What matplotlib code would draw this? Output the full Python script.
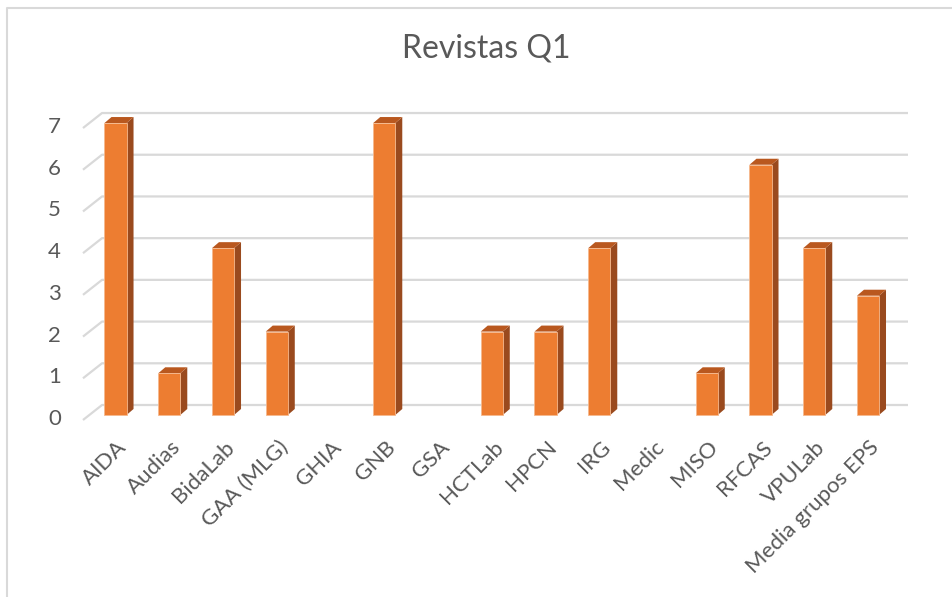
import matplotlib
matplotlib.use('Agg')
import matplotlib.pyplot as plt
from matplotlib.patches import Polygon
from matplotlib.lines import Line2D

groups = ['AIDA', 'Audias', 'BidaLab', 'GAA (MLG)', 'GHIA', 'GNB', 'GSA',
          'HCTLab', 'HPCN', 'IRG', 'Medic', 'MISO', 'RFCAS', 'VPULab',
          'Media grupos EPS']
q1 = [7, 1, 4, 2, 0, 7, 0, 2, 2, 4, 0, 1, 6, 4, 2.86]
yticks = [0, 1, 2, 3, 4, 5, 6, 7]

W, H = 953, 597
TXT = '#595959'
GRID = '#d9d9d9'
FRONT, SIDE, TOP = '#ED7D31', '#9A4A1E', '#B9581F'
plt.rcParams['font.family'] = ['Lato', 'DejaVu Sans']

fig = plt.figure(figsize=(W / 100, H / 100), dpi=100)
fig.patch.set_facecolor('white')

# axes box in pixels (front face of the bars)
XMIN, XMAX = -0.75, 14.75
YMIN, YMAX = -0.5, 7.5
left_px, right_px = 75.2, 908.3
zero_px, unit_px = 415.0, 41.71
top_px = zero_px - YMAX * unit_px
bot_px = zero_px - YMIN * unit_px
ax = fig.add_axes([left_px / W, 1 - bot_px / H, (right_px - left_px) / W, (bot_px - top_px) / H])
ax.set_xlim(XMIN, XMAX)
ax.set_ylim(YMIN, YMAX)
ax.axis('off')

kx = (XMAX - XMIN) / (right_px - left_px)   # data units per pixel
ky = (YMAX - YMIN) / (bot_px - top_px)

# back wall gridlines + floor diagonals
fx, bx = -0.605, -0.251
for v in yticks:
    ax.plot([fx, bx, XMAX], [v - 5 * ky, v + 10 * ky, v + 10 * ky],
            color=GRID, lw=1.6, zorder=1, solid_capstyle='butt')
    ax.text(fx - 22 * kx, v - 4 * ky, str(v), ha='right', va='center',
            fontsize=16, color=TXT)

# 3D-looking columns
xs = list(range(len(groups)))
w = 0.41
dx, dy = 7 * kx, 6 * ky
ax.bar(xs, q1, width=w, color=FRONT, edgecolor='#F6B98E',
       linewidth=[0.6 if v else 0 for v in q1], zorder=3)
for x, v in zip(xs, q1):
    if v == 0:
        continue
    r, l = x + w / 2, x - w / 2
    ax.add_patch(Polygon([(r, 0), (r + dx, dy), (r + dx, v + dy), (r, v)],
                         closed=True, fc=SIDE, ec='none', zorder=2.9))
    ax.add_patch(Polygon([(l, v), (r, v), (r + dx, v + dy), (l + dx, v + dy)],
                         closed=True, fc=TOP, ec='none', zorder=2.9))

# category labels
for x, g in zip(xs, groups):
    ax.text(x + 0.02, -22 * ky, g, rotation=45, rotation_mode='anchor',
            ha='right', va='top', fontsize=16, color=TXT)

fig.text(486.5 / W, 1 - 48 / H, 'Revistas Q1', ha='center', va='center',
         fontsize=23, color=TXT)

# chart frame (top and left edges visible)
fig.lines.append(Line2D([6.5 / W, 6.5 / W, 1.0], [0.0, 1 - 7.5 / H, 1 - 7.5 / H],
                        transform=fig.transFigure, color=GRID, lw=1.5))

plt.savefig('out.png', dpi=100, facecolor=fig.get_facecolor())
